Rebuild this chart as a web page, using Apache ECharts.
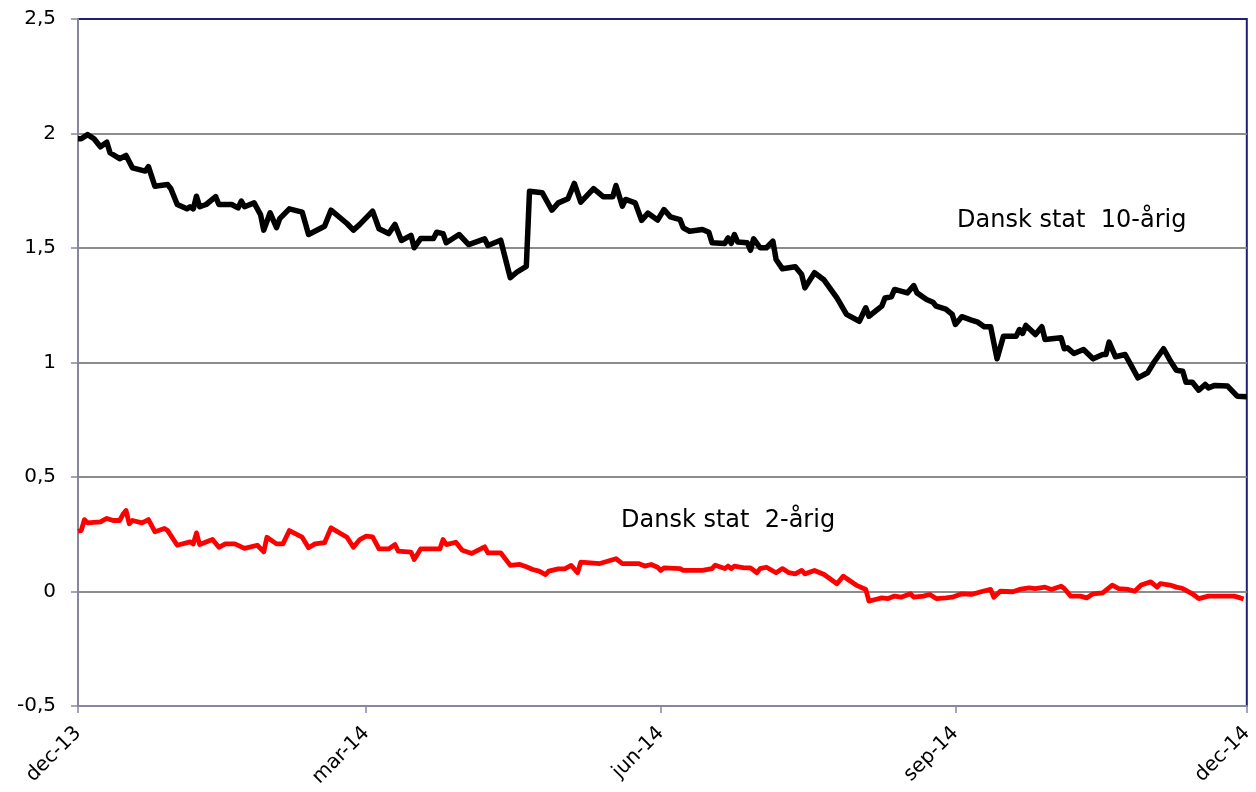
<!DOCTYPE html>
<html>
<head>
<meta charset="utf-8">
<script src="https://cdn.jsdelivr.net/npm/echarts@6/dist/echarts.min.js"></script>
<style>
html, body { margin: 0; padding: 0; background: #ffffff; }
#chart { width: 1256px; height: 792px; }
</style>
</head>
<body>
<div id="chart"></div>
<script>
const seriesNames = ['Dansk stat  10-årig', 'Dansk stat  2-årig'];

const tenYearDates = [
  '2013-12-02','2013-12-03','2013-12-05','2013-12-07','2013-12-09','2013-12-11','2013-12-12','2013-12-15','2013-12-17','2013-12-19',
  '2013-12-23','2013-12-24','2013-12-26','2013-12-30','2013-12-31','2014-01-02','2014-01-05','2014-01-06','2014-01-07','2014-01-08',
  '2014-01-09','2014-01-11','2014-01-14','2014-01-15','2014-01-19','2014-01-21','2014-01-22','2014-01-23','2014-01-26','2014-01-28',
  '2014-01-29','2014-01-31','2014-02-02','2014-02-03','2014-02-06','2014-02-10','2014-02-12','2014-02-17','2014-02-19','2014-02-24',
  '2014-02-26','2014-02-28','2014-03-04','2014-03-06','2014-03-09','2014-03-11','2014-03-13','2014-03-16','2014-03-17','2014-03-19',
  '2014-03-23','2014-03-24','2014-03-26','2014-03-27','2014-03-31','2014-04-03','2014-04-08','2014-04-09','2014-04-13','2014-04-16',
  '2014-04-18','2014-04-21','2014-04-22','2014-04-26','2014-04-29','2014-05-01','2014-05-04','2014-05-06','2014-05-08','2014-05-12',
  '2014-05-15','2014-05-18','2014-05-19','2014-05-21','2014-05-22','2014-05-25','2014-05-27','2014-05-29','2014-06-01','2014-06-03',
  '2014-06-05','2014-06-08','2014-06-09','2014-06-11','2014-06-15','2014-06-17','2014-06-18','2014-06-22','2014-06-23','2014-06-24',
  '2014-06-25','2014-06-26','2014-06-29','2014-06-30','2014-07-01','2014-07-03','2014-07-05','2014-07-07','2014-07-08','2014-07-10',
  '2014-07-14','2014-07-16','2014-07-17','2014-07-20','2014-07-23','2014-07-27','2014-07-30','2014-08-03','2014-08-05','2014-08-06',
  '2014-08-10','2014-08-11','2014-08-13','2014-08-14','2014-08-18','2014-08-20','2014-08-21','2014-08-24','2014-08-26','2014-08-27',
  '2014-08-30','2014-09-01','2014-09-02','2014-09-04','2014-09-07','2014-09-09','2014-09-11','2014-09-13','2014-09-15','2014-09-17',
  '2014-09-21','2014-09-22','2014-09-23','2014-09-24','2014-09-27','2014-09-29','2014-09-30','2014-10-05','2014-10-06','2014-10-07',
  '2014-10-09','2014-10-12','2014-10-15','2014-10-18','2014-10-19','2014-10-20','2014-10-22','2014-10-25','2014-10-27','2014-10-29',
  '2014-11-01','2014-11-03','2014-11-06','2014-11-08','2014-11-10','2014-11-12','2014-11-13','2014-11-15','2014-11-17','2014-11-19',
  '2014-11-20','2014-11-22','2014-11-26','2014-11-29','2014-12-02'
];
const tenYearValues = [
  1.977,1.977,1.995,1.977,1.942,1.962,1.916,1.890,1.904,1.850,
  1.836,1.855,1.770,1.777,1.759,1.690,1.671,1.680,1.671,1.726,
  1.680,1.690,1.724,1.690,1.690,1.675,1.705,1.680,1.697,1.646,
  1.578,1.654,1.589,1.628,1.671,1.657,1.559,1.595,1.665,1.607,
  1.578,1.603,1.661,1.584,1.563,1.603,1.533,1.555,1.501,1.541,
  1.541,1.569,1.563,1.523,1.559,1.515,1.540,1.511,1.534,1.370,
  1.394,1.420,1.748,1.741,1.665,1.697,1.715,1.782,1.700,1.759,
  1.724,1.724,1.773,1.683,1.712,1.697,1.621,1.652,1.622,1.668,
  1.636,1.624,1.588,1.573,1.581,1.569,1.523,1.520,1.544,1.520,
  1.559,1.526,1.523,1.490,1.540,1.501,1.501,1.530,1.450,1.409,
  1.418,1.384,1.326,1.392,1.360,1.282,1.210,1.180,1.239,1.202,
  1.246,1.282,1.287,1.319,1.304,1.336,1.304,1.275,1.263,1.246,
  1.233,1.210,1.166,1.200,1.185,1.176,1.156,1.156,1.016,1.115,
  1.115,1.144,1.127,1.162,1.122,1.156,1.100,1.108,1.060,1.064,
  1.039,1.057,1.016,1.035,1.035,1.089,1.025,1.035,0.984,0.933,
  0.955,1.001,1.060,1.010,0.966,0.962,0.914,0.914,0.879,0.904,
  0.889,0.900,0.897,0.853,0.850
];

const twoYearDates = [
  '2013-12-02','2013-12-03','2013-12-04','2013-12-05','2013-12-09','2013-12-11','2013-12-13','2013-12-15','2013-12-16','2013-12-17',
  '2013-12-18','2013-12-19','2013-12-22','2013-12-24','2013-12-26','2013-12-29','2013-12-30','2014-01-02','2014-01-06','2014-01-07',
  '2014-01-08','2014-01-09','2014-01-13','2014-01-15','2014-01-17','2014-01-20','2014-01-23','2014-01-27','2014-01-29','2014-01-30',
  '2014-02-02','2014-02-04','2014-02-06','2014-02-10','2014-02-12','2014-02-14','2014-02-17','2014-02-19','2014-02-24','2014-02-26',
  '2014-02-28','2014-03-02','2014-03-04','2014-03-06','2014-03-09','2014-03-11','2014-03-12','2014-03-16','2014-03-17','2014-03-19',
  '2014-03-25','2014-03-26','2014-03-27','2014-03-30','2014-04-01','2014-04-04','2014-04-08','2014-04-09','2014-04-13','2014-04-16',
  '2014-04-19','2014-04-21','2014-04-23','2014-04-25','2014-04-27','2014-04-28','2014-05-01','2014-05-03','2014-05-05','2014-05-07',
  '2014-05-08','2014-05-11','2014-05-14','2014-05-19','2014-05-21','2014-05-26','2014-05-28','2014-05-30','2014-06-01','2014-06-02',
  '2014-06-03','2014-06-08','2014-06-09','2014-06-15','2014-06-18','2014-06-19','2014-06-22','2014-06-23','2014-06-24','2014-06-25',
  '2014-06-28','2014-06-30','2014-07-02','2014-07-03','2014-07-05','2014-07-08','2014-07-10','2014-07-12','2014-07-14','2014-07-16',
  '2014-07-17','2014-07-20','2014-07-23','2014-07-27','2014-07-29','2014-07-30','2014-08-02','2014-08-05','2014-08-06','2014-08-08',
  '2014-08-10','2014-08-12','2014-08-14','2014-08-16','2014-08-19','2014-08-20','2014-08-23','2014-08-25','2014-08-27','2014-08-30',
  '2014-09-01','2014-09-04','2014-09-07','2014-09-10','2014-09-13','2014-09-14','2014-09-16','2014-09-20','2014-09-22','2014-09-25',
  '2014-09-27','2014-09-30','2014-10-02','2014-10-05','2014-10-06','2014-10-08','2014-10-11','2014-10-13','2014-10-15','2014-10-18',
  '2014-10-21','2014-10-23','2014-10-26','2014-10-28','2014-10-30','2014-11-02','2014-11-04','2014-11-05','2014-11-08','2014-11-10',
  '2014-11-12','2014-11-15','2014-11-17','2014-11-20','2014-11-24','2014-11-28','2014-11-30','2014-12-01'
];
const twoYearValues = [
  0.263,0.266,0.314,0.300,0.304,0.319,0.310,0.310,0.336,0.354,
  0.296,0.310,0.300,0.314,0.261,0.275,0.266,0.202,0.217,0.208,
  0.256,0.205,0.227,0.193,0.208,0.208,0.188,0.202,0.173,0.237,
  0.208,0.208,0.266,0.237,0.191,0.208,0.213,0.278,0.237,0.193,
  0.227,0.242,0.239,0.186,0.186,0.205,0.176,0.172,0.140,0.186,
  0.186,0.227,0.205,0.215,0.180,0.166,0.195,0.169,0.169,0.114,
  0.118,0.108,0.096,0.089,0.074,0.089,0.099,0.099,0.114,0.082,
  0.128,0.125,0.122,0.143,0.122,0.122,0.111,0.118,0.106,0.092,
  0.103,0.100,0.092,0.092,0.100,0.115,0.100,0.111,0.100,0.111,
  0.103,0.103,0.082,0.100,0.106,0.082,0.100,0.082,0.077,0.092,
  0.077,0.092,0.074,0.034,0.067,0.057,0.028,0.009,-0.042,-0.035,
  -0.028,-0.031,-0.020,-0.025,-0.010,-0.025,-0.020,-0.013,-0.031,-0.028,
  -0.025,-0.010,-0.013,-0.001,0.009,-0.025,0.001,-0.001,0.009,0.016,
  0.013,0.019,0.009,0.023,0.013,-0.020,-0.020,-0.028,-0.010,-0.006,
  0.028,0.013,0.009,0.001,0.028,0.042,0.019,0.034,0.028,0.019,
  0.013,-0.010,-0.031,-0.020,-0.020,-0.020,-0.028,-0.033
];

const xRange = ['2013-12-02', '2014-12-02'];
const tickDates = ['2013-12-02', '2014-03-02', '2014-06-02', '2014-09-02', '2014-12-02'];
const tickLabels = ['dec-13', 'mar-14', 'jun-14', 'sep-14', 'dec-14'];
const yMin = -0.5, yMax = 2.5, yStep = 0.5;

function toTime(s) {
  const p = s.split('-').map(Number);
  return Date.UTC(p[0], p[1] - 1, p[2]);
}
const tickTimes = tickDates.map(toTime);

const chart = echarts.init(document.getElementById('chart'), null, { renderer: 'canvas' });

const font = 'DejaVu Sans';

chart.setOption({
  animation: false,
  backgroundColor: '#ffffff',
  grid: { left: 78, right: 6, top: 19, bottom: 86, show: true, borderColor: '#1f1f7a', borderWidth: 2, backgroundColor: 'transparent' },
  xAxis: {
    type: 'value',
    min: toTime(xRange[0]),
    max: toTime(xRange[1]),
    axisLine: { show: true, onZero: false, lineStyle: { color: '#8686a0', width: 2 } },
    axisTick: { show: true, length: 7, customValues: tickTimes, lineStyle: { color: '#8686a0', width: 1.5 } },
    axisLabel: {
      customValues: tickTimes,
      rotate: 45,
      margin: 24,
      color: '#000000',
      fontFamily: font,
      fontSize: 20,
      showMinLabel: true,
      showMaxLabel: true,
      formatter: function (val) {
        const i = tickTimes.findIndex(function (t) { return Math.abs(t - val) < 43200000; });
        return i >= 0 ? tickLabels[i] : '';
      }
    },
    splitLine: { show: false }
  },
  yAxis: {
    type: 'value',
    min: yMin,
    max: yMax,
    interval: yStep,
    axisLine: { show: true, lineStyle: { color: '#8686a0', width: 2 } },
    axisTick: { show: true, length: 7, lineStyle: { color: '#8686a0', width: 1.5 } },
    axisLabel: {
      margin: 22,
      color: '#000000',
      fontFamily: font,
      fontSize: 20,
      formatter: function (v) { return String(Math.round(v * 10) / 10).replace('.', ','); }
    },
    splitLine: { show: true, lineStyle: { color: ['#8686a0', '#8c8c8c', '#8c8c8c', '#8c8c8c', '#8c8c8c', '#8c8c8c', '#1f1f7a'], width: 2 } }
  },
  series: [
    {
      name: seriesNames[0],
      type: 'line',
      showSymbol: false,
      symbol: 'none',
      data: tenYearDates.map(function (d, i) { return [toTime(d), tenYearValues[i]]; }),
      lineStyle: { color: '#000000', width: 5.5, join: 'round' },
      z: 3
    },
    {
      name: seriesNames[1],
      type: 'line',
      showSymbol: false,
      symbol: 'none',
      data: twoYearDates.map(function (d, i) { return [toTime(d), twoYearValues[i]]; }),
      lineStyle: { color: '#ff0000', width: 4.8, join: 'round' },
      z: 3
    }
  ],
  graphic: [
    { type: 'text', left: 957, top: 209, style: { text: seriesNames[0], fill: '#000000', font: '24px "DejaVu Sans"' } },
    { type: 'text', left: 621, top: 509, style: { text: seriesNames[1], fill: '#000000', font: '24px "DejaVu Sans"' } }
  ]
});
</script>
</body>
</html>
